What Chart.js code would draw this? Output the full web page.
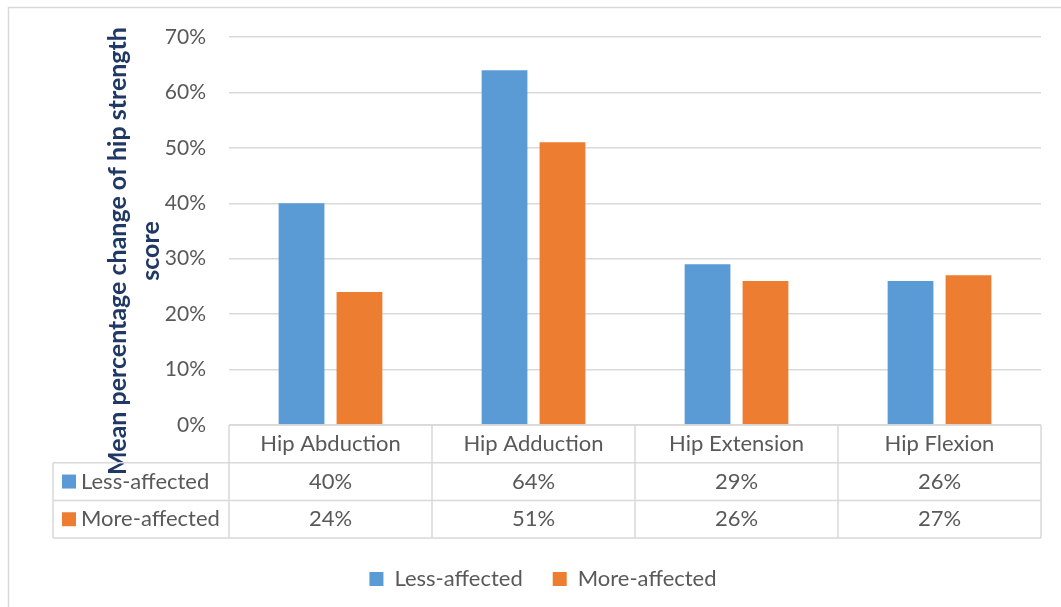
<!DOCTYPE html>
<html>
<head>
<meta charset="utf-8">
<script src="https://cdn.jsdelivr.net/npm/chart.js@4/dist/chart.umd.min.js"></script>
<style>
  body { margin: 0; background: #fff; }
  canvas { display: block; }
</style>
</head>
<body>
<canvas id="myChart" width="1061" height="607"></canvas>
<script>
// Chart data
var categories = ['Hip Abduction', 'Hip Adduction', 'Hip Extension', 'Hip Flexion'];
var lessAffected = [40, 64, 29, 26];
var moreAffected = [24, 51, 26, 27];
var seriesNames = ['Less-affected', 'More-affected'];
var yTicks = [0, 10, 20, 30, 40, 50, 60, 70];
var yTitle = ['Mean percentage change of hip strength', 'score'];

var blue = '#5B9BD5';
var orange = '#ED7D31';
var gridColor = '#D9D9D9';
var textColor = '#595959';
var fontFamily = 'Lato, "Open Sans", sans-serif';

// Outer frame and rotated axis title
var framePlugin = {
    id: 'frame',
    beforeDraw: function(chart) {
        var ctx = chart.ctx;
        ctx.save();
        ctx.strokeStyle = gridColor;
        ctx.lineWidth = 1.5;
        ctx.strokeRect(8.5, 7.5, 1070, 620);
        ctx.restore();
    },
    afterDraw: function(chart) {
        var ctx = chart.ctx;
        ctx.save();
        ctx.fillStyle = '#1F3864';
        ctx.font = 'bold 25px ' + fontFamily;
        ctx.textAlign = 'center';
        ctx.textBaseline = 'middle';
        ctx.translate(118, 251);
        ctx.rotate(-Math.PI / 2);
        ctx.fillText(yTitle[0], 0, 0);
        ctx.fillText(yTitle[1], 0, 33);
        ctx.restore();
    }
};

// Data table under the plot, lined up with the category scale
var tablePlugin = {
    id: 'dataTable',
    afterDraw: function(chart) {
        var ctx = chart.ctx;
        var x = chart.scales.x;
        var area = chart.chartArea;
        var colW = (area.right - area.left) / categories.length;
        var rowH = 37.7;
        var top = area.bottom;
        var tableLeft = 53;
        var rows = [lessAffected, moreAffected];
        var colors = [blue, orange];

        ctx.save();
        ctx.strokeStyle = gridColor;
        ctx.lineWidth = 1.5;
        ctx.beginPath();
        ctx.moveTo(area.left, top);
        ctx.lineTo(area.right, top);
        for (var r = 1; r <= 3; r++) {
            ctx.moveTo(tableLeft, top + rowH * r);
            ctx.lineTo(area.right, top + rowH * r);
        }
        ctx.moveTo(tableLeft, top + rowH);
        ctx.lineTo(tableLeft, top + rowH * 3);
        for (var c = 0; c <= categories.length; c++) {
            var cx = area.left + colW * c;
            ctx.moveTo(cx, top);
            ctx.lineTo(cx, top + rowH * 3);
        }
        ctx.stroke();

        ctx.font = '22px ' + fontFamily;
        ctx.fillStyle = textColor;
        ctx.textBaseline = 'middle';
        ctx.textAlign = 'center';
        for (var i = 0; i < categories.length; i++) {
            var px = x.getPixelForValue(i);
            ctx.fillText(categories[i], px, top + rowH / 2);
            for (var s = 0; s < rows.length; s++) {
                ctx.fillText(rows[s][i] + '%', px, top + rowH * (s + 1.5));
            }
        }
        ctx.textAlign = 'left';
        for (var k = 0; k < rows.length; k++) {
            var cy = top + rowH * (k + 1.5);
            ctx.fillStyle = colors[k];
            ctx.fillRect(62, cy - 7, 14, 14);
            ctx.fillStyle = textColor;
            ctx.fillText(seriesNames[k], 81, cy);
        }
        ctx.restore();
    }
};

var ctx = document.getElementById('myChart').getContext('2d');
var myChart = new Chart(ctx, {
    type: 'bar',
    data: {
        labels: categories,
        datasets: [{
            label: seriesNames[0],
            data: lessAffected,
            backgroundColor: blue,
            categoryPercentage: 0.571,
            barPercentage: 0.79
        }, {
            label: seriesNames[1],
            data: moreAffected,
            backgroundColor: orange,
            categoryPercentage: 0.571,
            barPercentage: 0.79
        }]
    },
    options: {
        responsive: false,
        animation: false,
        layout: {
            padding: { left: 45, right: 20, top: 37, bottom: 7 }
        },
        scales: {
            x: {
                ticks: { display: false },
                grid: { display: false },
                border: { display: false },
                afterFit: function(scale) { scale.height = 113; }
            },
            y: {
                min: 0,
                max: 70,
                afterBuildTicks: function(scale) {
                    scale.ticks = yTicks.map(function(v) { return { value: v }; });
                },
                afterFit: function(scale) { scale.width = 184; },
                ticks: {
                    padding: 23,
                    color: textColor,
                    font: { family: fontFamily, size: 21 },
                    callback: function(value) { return value + '%'; }
                },
                grid: { color: gridColor, lineWidth: 1.5, drawTicks: false },
                border: { display: false }
            }
        },
        plugins: {
            legend: {
                position: 'bottom',
                labels: {
                    boxWidth: 14,
                    boxHeight: 14,
                    padding: 30,
                    color: textColor,
                    font: { family: fontFamily, size: 22 }
                }
            },
            tooltip: { enabled: false }
        }
    },
    plugins: [framePlugin, tablePlugin]
});
</script>
</body>
</html>
